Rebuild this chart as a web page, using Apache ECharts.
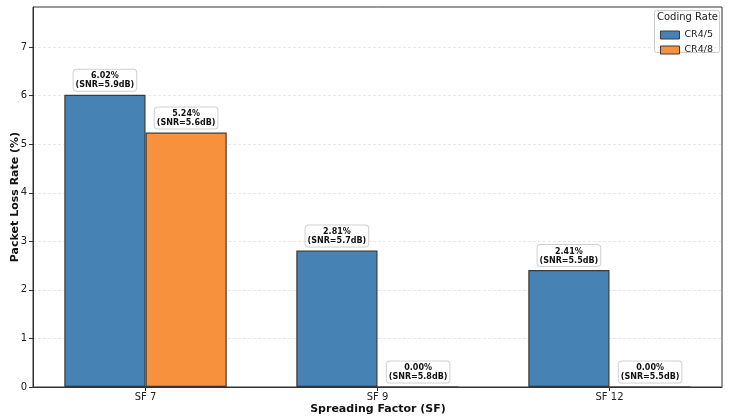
<!DOCTYPE html>
<html>
<head>
<meta charset="utf-8">
<script src="https://cdn.jsdelivr.net/npm/echarts@6/dist/echarts.min.js"></script>
<style>
  html, body { margin: 0; padding: 0; background: #fff; }
  #chart { width: 731px; height: 420px; }
</style>
</head>
<body>
<div id="chart"></div>
<script>
var categories = ['SF 7', 'SF 9', 'SF 12'];
var cr45 = [6.02, 2.81, 2.41];
var cr48 = [5.24, 0.00, 0.00];
var snr45 = [5.9, 5.7, 5.5];
var snr48 = [5.6, 5.8, 5.5];
var yTicks = [0, 1, 2, 3, 4, 5, 6, 7];

var font = 'DejaVu Sans';
var barW = 0.35;          // in category units
var xMin = -0.485, xMax = 2.485;
var gridLeft = 33, gridRight = 9;

var myChart = echarts.init(document.getElementById('chart'));
var plotW = 731 - gridLeft - gridRight;
var barPx = barW * plotW / (xMax - xMin);

function buildData(vals, snr, shift) {
  return vals.map(function(v, i) {
    return { value: [i + shift, v], snr: snr[i] };
  });
}

function labelOpt() {
  return {
    show: true,
    position: 'top',
    distance: 4,
    fontFamily: font,
    fontSize: 8,
    fontWeight: 'bold',
    color: '#111',
    lineHeight: 9,
    align: 'center',
    backgroundColor: '#fff',
    borderColor: '#d0d0d0',
    borderWidth: 1,
    borderRadius: 3,
    padding: [2, 2, 1, 2],
    formatter: function(p) {
      return p.value[1].toFixed(2) + '%\n(SNR=' + p.data.snr.toFixed(1) + 'dB)';
    }
  };
}

var option = {
  animation: false,
  grid: {
    left: gridLeft, right: gridRight, top: 7, bottom: 33,
    show: true, borderColor: '#333', borderWidth: 1, backgroundColor: 'transparent', z: 5
  },
  legend: {
    orient: 'vertical',
    right: 13,
    top: 25,
    icon: 'rect',
    itemWidth: 19,
    itemHeight: 8,
    itemGap: 5,
    itemStyle: { borderColor: '#3a3a3a', borderWidth: 1 },
    textStyle: { fontFamily: font, fontSize: 9.5, color: '#222' },
    data: ['CR4/5', 'CR4/8']
  },
  graphic: [
    {
      type: 'rect', left: 654, top: 10,
      shape: { width: 65, height: 42, r: 2 },
      style: { fill: '#fff', stroke: '#ccc', lineWidth: 1 },
      z: -1
    },
    {
      type: 'text', left: 657, top: 12,
      style: { text: 'Coding Rate', fontFamily: font, fontSize: 10, fill: '#222' }
    },
    {
      type: 'text', x: 15, y: 197, rotation: Math.PI / 2,
      style: { text: 'Packet Loss Rate (%)', fontFamily: font, fontSize: 11, fontWeight: 'bold', fill: '#111', align: 'center', verticalAlign: 'middle' }
    },
    {
      type: 'text', x: 378, y: 409,
      style: { text: 'Spreading Factor (SF)', fontFamily: font, fontSize: 11, fontWeight: 'bold', fill: '#111', align: 'center', verticalAlign: 'middle' }
    }
  ],
  xAxis: {
    type: 'value',
    min: xMin, max: xMax,
    splitLine: { show: false },
    axisLine: { show: true, onZero: false, lineStyle: { color: '#333', width: 1 } },
    axisTick: { show: true, customValues: [0, 1, 2], length: 4, lineStyle: { color: '#333' } },
    axisLabel: {
      customValues: [0, 1, 2],
      fontFamily: font, fontSize: 10, color: '#222', margin: 5,
      formatter: function(v) { return categories[Math.round(v)]; }
    }
  },
  yAxis: {
    type: 'value',
    min: 0, max: 6.02 * 1.3,
    interval: 1,
    axisLine: { show: true, onZero: false, lineStyle: { color: '#333', width: 1 } },
    axisTick: { show: true, length: 4, lineStyle: { color: '#333' } },
    axisLabel: {
      fontFamily: font, fontSize: 10, color: '#222', margin: 6,
      showMaxLabel: false,
      formatter: function(v) { return yTicks.indexOf(v) >= 0 ? String(v) : ''; }
    },
    splitLine: { show: true, showMaxLine: false, lineStyle: { color: '#e2e2e2', type: [3, 2], width: 0.8 } }
  },
  series: [
    {
      name: 'CR4/5',
      type: 'bar',
      barWidth: barPx,
      barGap: '-100%',
      itemStyle: { color: '#4682b4', borderColor: '#3a3a3a', borderWidth: 1.2 },
      label: labelOpt(),
      data: buildData(cr45, snr45, -barW / 2)
    },
    {
      name: 'CR4/8',
      type: 'bar',
      barWidth: barPx,
      barGap: '-100%',
      itemStyle: { color: '#f8913d', borderColor: '#3a3a3a', borderWidth: 1.2 },
      label: labelOpt(),
      data: buildData(cr48, snr48, barW / 2)
    }
  ]
};

myChart.setOption(option);
</script>
</body>
</html>
